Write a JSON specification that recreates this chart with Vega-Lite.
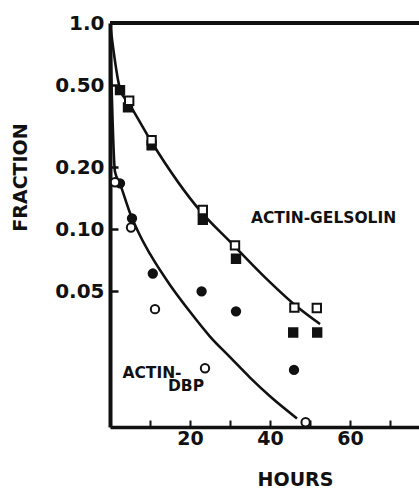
{
  "$schema": "https://vega.github.io/schema/vega-lite/v6.json",
  "autosize": {"type": "none"},
  "padding": {"left": 110, "top": 23, "right": 0, "bottom": 62},
  "width": 309,
  "height": 404,
  "background": "white",
  "config": {
    "view": {"stroke": null},
    "axis": {
      "grid": false,
      "domainColor": "#111",
      "tickColor": "#111",
      "labelColor": "#111",
      "titleColor": "#111",
      "labelFont": "DejaVu Sans",
      "titleFont": "DejaVu Sans",
      "labelFontWeight": "bold",
      "titleFontWeight": "bold",
      "labelFontSize": 19,
      "titleFontSize": 19
    }
  },
  "datasets": {
    "points": [
      {"series": "gelsolin", "type": "filled", "hours": 2.5, "fraction": 0.473},
      {"series": "gelsolin", "type": "filled", "hours": 4.5, "fraction": 0.39},
      {"series": "gelsolin", "type": "filled", "hours": 10.4, "fraction": 0.255},
      {"series": "gelsolin", "type": "filled", "hours": 23.2, "fraction": 0.111},
      {"series": "gelsolin", "type": "filled", "hours": 31.5, "fraction": 0.072},
      {"series": "gelsolin", "type": "filled", "hours": 45.8, "fraction": 0.0316},
      {"series": "gelsolin", "type": "filled", "hours": 51.8, "fraction": 0.0316},
      {"series": "gelsolin", "type": "open", "hours": 4.8, "fraction": 0.42},
      {"series": "gelsolin", "type": "open", "hours": 10.4, "fraction": 0.27},
      {"series": "gelsolin", "type": "open", "hours": 23.2, "fraction": 0.124},
      {"series": "gelsolin", "type": "open", "hours": 31.25, "fraction": 0.0836},
      {"series": "gelsolin", "type": "open", "hours": 46.1, "fraction": 0.0417},
      {"series": "gelsolin", "type": "open", "hours": 51.7, "fraction": 0.0415},
      {"series": "dbp", "type": "filled", "hours": 2.5, "fraction": 0.167},
      {"series": "dbp", "type": "filled", "hours": 5.5, "fraction": 0.113},
      {"series": "dbp", "type": "filled", "hours": 10.7, "fraction": 0.061},
      {"series": "dbp", "type": "filled", "hours": 22.9, "fraction": 0.05},
      {"series": "dbp", "type": "filled", "hours": 31.5, "fraction": 0.04},
      {"series": "dbp", "type": "filled", "hours": 46, "fraction": 0.0208},
      {"series": "dbp", "type": "open", "hours": 1.25, "fraction": 0.169},
      {"series": "dbp", "type": "open", "hours": 5.25, "fraction": 0.102},
      {"series": "dbp", "type": "open", "hours": 11.25, "fraction": 0.041},
      {"series": "dbp", "type": "open", "hours": 23.75, "fraction": 0.0212},
      {"series": "dbp", "type": "open", "hours": 48.9, "fraction": 0.0116}
    ],
    "curves": [
      {"curve": "gelsolin", "hours": 0, "fraction": 1.0},
      {"curve": "gelsolin", "hours": 2.5, "fraction": 0.48},
      {"curve": "gelsolin", "hours": 5, "fraction": 0.4},
      {"curve": "gelsolin", "hours": 10.4, "fraction": 0.265},
      {"curve": "gelsolin", "hours": 23, "fraction": 0.12},
      {"curve": "gelsolin", "hours": 30, "fraction": 0.0871},
      {"curve": "gelsolin", "hours": 38.3, "fraction": 0.0596},
      {"curve": "gelsolin", "hours": 46.7, "fraction": 0.0422},
      {"curve": "gelsolin", "hours": 52.5, "fraction": 0.0347},
      {"curve": "dbp", "hours": 0, "fraction": 1.0},
      {"curve": "dbp", "hours": 1.25, "fraction": 0.19},
      {"curve": "dbp", "hours": 2.5, "fraction": 0.166},
      {"curve": "dbp", "hours": 5, "fraction": 0.12},
      {"curve": "dbp", "hours": 7.5, "fraction": 0.0933},
      {"curve": "dbp", "hours": 10, "fraction": 0.0759},
      {"curve": "dbp", "hours": 15, "fraction": 0.0537},
      {"curve": "dbp", "hours": 20, "fraction": 0.0398},
      {"curve": "dbp", "hours": 25, "fraction": 0.0302},
      {"curve": "dbp", "hours": 30, "fraction": 0.024},
      {"curve": "dbp", "hours": 35, "fraction": 0.0191},
      {"curve": "dbp", "hours": 40, "fraction": 0.0155},
      {"curve": "dbp", "hours": 46.75, "fraction": 0.0121}
    ],
    "labels": [
      {"label": "ACTIN-GELSOLIN", "hours": 53.4, "fraction": 0.114},
      {"label": "ACTIN-", "hours": 10.5, "fraction": 0.0202},
      {"label": "DBP", "hours": 19.0, "fraction": 0.0173}
    ]
  },
  "layer": [
    {
      "data": {"name": "curves"},
      "mark": {"type": "line", "color": "#111", "strokeWidth": 2.6, "interpolate": "monotone", "clip": true},
      "encoding": {
        "x": {
          "field": "hours", "type": "quantitative",
          "scale": {"domain": [0, 77.25], "nice": false, "zero": false},
          "axis": {
            "values": [10, 20, 30, 40, 50, 60, 70],
            "labelExpr": "datum.value % 20 == 0 ? datum.label : ''",
            "tickSize": -7, "tickWidth": 2, "domainWidth": 3.5,
            "labelPadding": 9,
            "title": "HOURS",
            "titleX": 185, "titleY": 52, "titleBaseline": "middle", "titleAlign": "center"
          }
        },
        "y": {
          "field": "fraction", "type": "quantitative",
          "scale": {"type": "log", "domain": [0.011, 1], "nice": false},
          "axis": {
            "values": [0.05, 0.1, 0.2, 0.5, 1],
            "labelExpr": "datum.value == 1 ? '1.0' : format(datum.value, '.2f')",
            "labelFontSize": 20,
            "tickSize": -8, "tickWidth": 2.5, "domainWidth": 4,
            "labelPadding": 14,
            "title": "FRACTION",
            "titleX": -90, "titleY": 154, "titleAngle": -90, "titleBaseline": "middle", "titleAlign": "center"
          }
        },
        "detail": {"field": "curve"}
      }
    },
    {
      "data": {"name": "curves"},
      "mark": {"type": "rule", "color": "#111", "strokeWidth": 3.5},
      "encoding": {
        "y": {"datum": 1.0, "type": "quantitative"}
      }
    },
    {
      "data": {"name": "points"},
      "mark": {"type": "point", "filled": true, "stroke": "#111", "strokeWidth": 2, "size": 70, "opacity": 1},
      "encoding": {
        "x": {"field": "hours", "type": "quantitative"},
        "y": {"field": "fraction", "type": "quantitative"},
        "shape": {"field": "series", "type": "nominal", "scale": {"domain": ["gelsolin", "dbp"], "range": ["square", "circle"]}, "legend": null},
        "fill": {"field": "type", "type": "nominal", "scale": {"domain": ["open", "filled"], "range": ["white", "#111"]}, "legend": null}
      }
    },
    {
      "data": {"name": "labels"},
      "mark": {"type": "text", "font": "DejaVu Sans", "fontWeight": "bold", "fontSize": 15.5, "color": "#111", "align": "center", "baseline": "middle"},
      "encoding": {
        "x": {"field": "hours", "type": "quantitative"},
        "y": {"field": "fraction", "type": "quantitative"},
        "text": {"field": "label"}
      }
    }
  ]
}
